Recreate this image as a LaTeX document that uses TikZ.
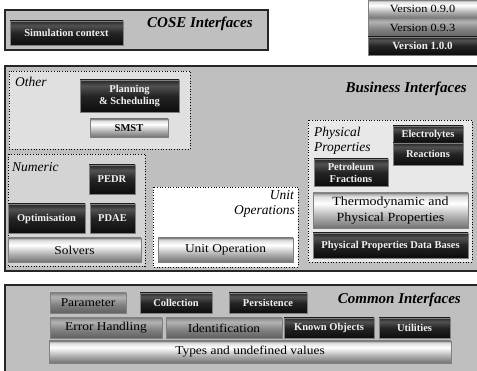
\documentclass[tikz,border=0pt]{standalone}
\usepackage{fontspec}
\setmainfont{Liberation Serif}
\newfontfamily\widerm{Liberation Serif}[FakeStretch=1.12]
\pgfdeclareverticalshading{darkbtn}{100bp}{color(0bp)=(black!95); color(25bp)=(black!95); color(50bp)=(black!86); color(66bp)=(black!68); color(75bp)=(black!85); color(100bp)=(black!85)}
\pgfdeclareverticalshading{lightbtn}{100bp}{color(0bp)=(black!55); color(25bp)=(black!55); color(42bp)=(black!30); color(60bp)=(white); color(70bp)=(black!12); color(75bp)=(black!40); color(100bp)=(black!40)}
\pgfdeclareverticalshading{midbtn}{100bp}{color(0bp)=(black!62); color(25bp)=(black!62); color(45bp)=(black!50); color(65bp)=(black!30); color(75bp)=(black!45); color(100bp)=(black!45)}
\tikzset{
  btn/.style={inner sep=0pt, align=center, draw=black!50, line width=0.8pt},
  dark/.style={btn, shading=darkbtn, text=black!6, font=\fontsize{10.5}{12}\selectfont\bfseries},
  light/.style={btn, shading=lightbtn, text=black, font=\widerm\fontsize{12}{14}\selectfont},
  mid/.style={btn, shading=midbtn, text=black, font=\widerm\fontsize{12}{14}\selectfont},
  panel/.style={fill=black!25, draw=black!85, line width=1.1pt},
  region/.style={draw=black, dotted, line width=0.7pt},
  ptitle/.style={font=\fontsize{15}{17}\selectfont\bfseries\itshape, inner sep=0pt},
  rtitle/.style={font=\fontsize{13.5}{15}\selectfont\itshape, inner sep=0pt},
}
\newcommand\bx[7]{\node[#1, minimum width={(#4-#2)*1pt}, minimum height={(#5-#3)*1pt}] (#6) at ({(#2+#4)/2},{(#3+#5)/2}) {#7};}
\begin{document}
\begin{tikzpicture}[x=1pt,y=-1pt]
\useasboundingbox (0,0) rectangle (477,371);
\fill[white] (0,0) rectangle (477,371);
\begin{scope}
\clip (0,0) rectangle (477,371);
% panels
\draw[panel] (5,10) rectangle (268,50);
\draw[panel] (5,66) rectangle (490,271);
\draw[panel] (5,285) rectangle (490,390);
% regions
\draw[region, fill=black!12] (9,71) rectangle (190,149);
\draw[region, fill=black!17] (8,154) rectangle (145,266);
\draw[region, fill=white] (153,187) rectangle (298,267);
\draw[region, fill=black!9] (308,120) rectangle (472,262);
\end{scope}
% titles
\node[ptitle, anchor=base west] (tcose) at (147,28) {COSE Interfaces};
\node[ptitle, anchor=base east] (tbus) at (467,93) {Business Interfaces};
\node[ptitle, anchor=base east] (tcom) at (461,304) {Common Interfaces};
\node[rtitle, anchor=base west] (tother) at (15,87) {Other};
\node[rtitle, anchor=base west] (tnum) at (12,172) {Numeric};
\node[rtitle, anchor=base west] (tphysA) at (314,137) {Physical};
\node[rtitle, anchor=base west] (tphysB) at (314,152) {Properties};
\node[rtitle, anchor=base east] (tunitA) at (294,200) {Unit};
\node[rtitle, anchor=base east] (tunitB) at (295,215) {Operations};
% versions
\bx{light, font=\widerm\fontsize{11}{12}\selectfont}{368}{0}{477}{18}{v090}{Version 0.9.0}
\bx{mid, font=\widerm\fontsize{11}{12}\selectfont}{368}{18}{477}{37}{v093}{Version 0.9.3}
\bx{dark, font=\fontsize{11}{12}\selectfont\bfseries}{368}{37}{477}{55}{v100}{Version 1.0.0}
% COSE
\bx{dark}{10}{21}{123}{45}{sim}{Simulation context}
% Business
\bx{dark}{80}{80}{179}{112}{plan}{Planning\\\& Scheduling}
\bx{light, font=\fontsize{10.5}{12}\selectfont\bfseries}{90}{119}{168}{137}{smst}{SMST}
\bx{dark}{89}{165}{135}{194}{pedr}{PEDR}
\bx{dark}{8}{204}{85}{233}{optim}{Optimisation}
\bx{dark}{90}{204}{135}{233}{pdae}{PDAE}
\bx{light}{8}{238}{141}{262}{solv}{Solvers}
\bx{light}{158}{238}{293}{262}{unitop}{Unit Operation}
\bx{dark}{393}{126}{463}{143}{elec}{Electrolytes}
\bx{dark}{393}{143}{463}{165}{react}{Reactions}
\bx{dark}{314}{159}{388}{186}{petro}{Petroleum\\Fractions}
\bx{light, font=\widerm\fontsize{12.5}{16}\selectfont}{313}{193}{468}{228}{thermo}{Thermodynamic and\\Physical Properties}
\bx{dark}{313}{233}{468}{258}{ppdb}{Physical Properties Data Bases}
% Common
\bx{mid}{50}{293}{126}{313}{param}{Parameter}
\bx{dark}{140}{293}{212}{313}{coll}{Collection}
\bx{dark}{229}{293}{307}{313}{pers}{Persistence}
\bx{mid}{50}{318}{162}{338}{err}{Error Handling}
\bx{mid}{166}{318}{282}{338}{ident}{Identification}
\bx{dark}{284}{318}{374}{338}{known}{Known Objects}
\bx{dark}{379}{318}{450}{338}{util}{Utilities}
\bx{light}{49}{341}{451}{363}{types}{Types and undefined values}
\end{tikzpicture}
\end{document}
